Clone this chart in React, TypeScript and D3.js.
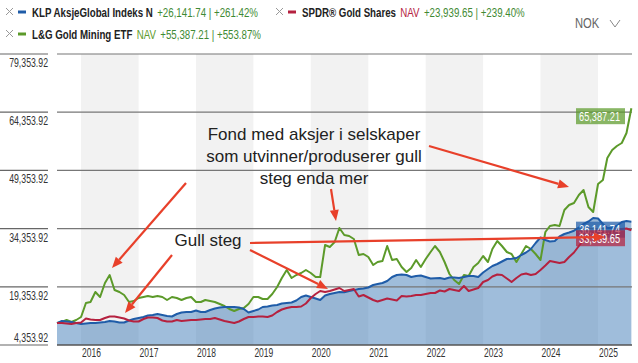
import React, { useEffect } from "react";
import * as d3 from "d3";

const W = 638;
const H = 363;

// monthly values from Aug 2015 to Aug 2025 (start = 10 000 NOK)
const klpValues = [
  10000, 10540, 10411, 10282, 10024, 9766, 9895, 10024, 10024, 10153, 10282, 10540,
  10411, 10153, 10153, 10668, 11055, 11313, 11570, 11957, 12086, 12344, 12086, 11828,
  11699, 12344, 12730, 12859, 12859, 13246, 12859, 12859, 13375, 13761, 14019, 14148,
  14148, 14148, 14019, 13632, 12730, 13117, 13503, 14148, 14277, 14534, 14663, 15050,
  15179, 15308, 15823, 16725, 17112, 16725, 16338, 15952, 17112, 17498, 17756, 18014,
  17936, 18271, 18529, 18787, 18916, 19173, 19818, 20076, 20333, 20849, 21879, 22395,
  22524, 22395, 21879, 22137, 22266, 21879, 21493, 21545, 21622, 21364, 21750, 21750,
  21622, 21879, 22137, 22137, 21879, 23040, 23942, 24715, 25230, 25875, 26519, 26596,
  26777, 27550, 28194, 29096, 30642, 32060, 31416, 31029, 31158, 32318, 32962, 33349,
  33813, 34637, 35539, 36184, 37086, 36957, 35539, 34508, 34508, 35101, 36055, 36312,
  36141.74,
];

const spdrValues = [
  10000, 10024, 9895, 9766, 10024, 10153, 11184, 10926, 10797, 10797, 11313, 11699,
  11699, 11441, 11184, 10668, 10411, 10411, 11055, 11441, 11441, 11313, 10668, 10411,
  10411, 10797, 10540, 10668, 10797, 10797, 10926, 11055, 11055, 11313, 10926, 10540,
  10282, 10024, 10411, 11055, 11570, 11570, 11699, 11699, 11570, 11957, 12859, 13503,
  13890, 14148, 14148, 14277, 15050, 16467, 17498, 18271, 18014, 18271, 18658, 19045,
  18271, 18529, 18787, 16854, 17240, 16596, 15952, 15565, 15952, 16338, 16080, 15823,
  16983, 16854, 16983, 17240, 17240, 17498, 17756, 17756, 18400, 18142, 18787, 18529,
  18271, 19560, 18271, 18658, 19045, 20591, 21106, 22008, 22524, 22395, 21493, 20591,
  21622, 22524, 22782, 22395, 22653, 23684, 24844, 26003, 25746, 25488, 25746, 27034,
  28194, 29869, 31416, 32318, 33220, 34122, 33349, 32962, 33478, 34251, 34251, 34380,
  33939.65,
];

const lgValues = [
  10000, 10282, 10797, 10282, 10797, 11570, 15179, 15436, 18014, 16725, 20333, 22395,
  18529, 18014, 17240, 15436, 15694, 16467, 16725, 16983, 16725, 16983, 16725, 15952,
  16725, 16467, 15952, 16467, 16725, 15436, 15436, 15952, 15694, 15436, 14921, 14405,
  13632, 13117, 13632, 13890, 14921, 16725, 16725, 16210, 16210, 17498, 19302, 21622,
  23684, 21622, 22395, 22911, 23684, 22911, 21879, 21879, 30127, 29611, 30900, 34508,
  32704, 32447, 31673, 27550, 27807, 27034, 24972, 25746, 26003, 29869, 26261, 26519,
  24457, 23168, 24199, 26261, 24457, 26519, 28323, 29869, 28323, 25746, 22653, 21106,
  20076, 22395, 22137, 24457, 25488, 27292, 25746, 29096, 31158, 29869, 28323, 27807,
  25746, 27807, 29869, 29096, 27807, 26261, 33478, 35024, 35281, 35024, 39147, 40436,
  40952, 43015, 44302, 39920, 38632, 45849, 46879, 52549, 54612, 55643, 56416, 58993,
  65387.21,
];

const years = [2016, 2017, 2018, 2019, 2020, 2021, 2022, 2023, 2024, 2025];
const yTicks = [4353.92, 19353.92, 34353.92, 49353.92, 64353.92, 79353.92];

const seriesNames = ["KLP AksjeGlobal Indeks N", "SPDR® Gold Shares", "L&G Gold Mining ETF"];
const seriesNav = ["", "NAV", "NAV"];
const seriesChange = ["+26,141.74 | +261.42%", "+23,939.65 | +239.40%", "+55,387.21 | +553.87%"];
const seriesColors = ["#1f5ca8", "#b5213f", "#5c9a2a"];

const noteLines = ["Fond med aksjer i selskaper", "som utvinner/produserer gull", "steg enda mer"];
const noteGold = "Gull steg";

const sans = "'Liberation Sans', Arial, sans-serif";

const m = { left: 57, right: 632, top: 54, bottom: 345 };

const fmt = d3.format(",.2f");

function monthDate(i: number) {
  return new Date(2015, 7 + i, 1);
}

const arrows = [
  [186, 183, 112, 268],
  [429, 146, 569, 187],
  [331, 189, 336, 221],
  [172, 255, 125, 313],
  [250, 250, 328, 289],
  [250, 243, 605, 237],
];

// condensed text: Arial metrics squeezed horizontally
function NText(props: {
  x: number;
  y: number;
  size: number;
  sx: number;
  anchor?: string;
  fill?: string;
  weight?: string;
  children: React.ReactNode;
}) {
  const { x, y, size, sx, anchor, fill, weight, children } = props;
  return (
    <text
      transform={`translate(${x},${y}) scale(${sx},1)`}
      textAnchor={anchor || "start"}
      fontFamily={sans}
      fontSize={size}
      fontWeight={weight || "normal"}
      fill={fill || "#333"}
    >
      {children}
    </text>
  );
}

function Arrow({ a }: { a: number[] }) {
  const [x1, y1, x2, y2] = a;
  const ang = Math.atan2(y2 - y1, x2 - x1);
  const len = 11;
  const wid = 4.5;
  const bx = x2 - len * Math.cos(ang);
  const by = y2 - len * Math.sin(ang);
  const px = -Math.sin(ang) * wid;
  const py = Math.cos(ang) * wid;
  return (
    <g>
      <line x1={x1} y1={y1} x2={bx} y2={by} stroke="#e8402a" strokeWidth={2.2} />
      <path d={`M${x2},${y2}L${bx + px},${by + py}L${bx - px},${by - py}Z`} fill="#e8402a" />
    </g>
  );
}

export default function App() {
  useEffect(() => {
    document.body.style.margin = "0";
  }, []);

  const x = d3
    .scaleTime()
    .domain([new Date(2015, 7, 1), new Date(2025, 7, 5)])
    .range([m.left, m.right]);
  const y = d3.scaleLinear().domain([yTicks[0], yTicks[yTicks.length - 1]]).range([m.bottom, m.top]);

  const all = [klpValues, spdrValues, lgValues];
  const line = d3
    .line<number>()
    .x((_, i) => x(monthDate(i)))
    .y((d) => y(d));
  const area = d3
    .area<number>()
    .x((_, i) => x(monthDate(i)))
    .y0(m.bottom)
    .y1((d) => y(d));

  const legendPos = [
    [32, 17],
    [302, 17],
    [32, 39],
  ];

  return (
    <div style={{ position: "absolute", left: 0, top: 0 }}>
      <svg width={W} height={H} style={{ display: "block", background: "#fff" }}>
        {/* year bands */}
        {years.map((yr) => {
          const x0 = x(new Date(yr, 0, 1));
          const x1 = Math.min(x(new Date(yr + 1, 0, 1)), m.right);
          return yr % 2 === 0 ? (
            <rect key={yr} x={x0} y={m.top} width={x1 - x0} height={m.bottom - m.top} fill="#f2f2f2" />
          ) : null;
        })}

        {/* area for KLP */}
        <path d={area(klpValues) || ""} fill="#2a6db0" fillOpacity={0.45} />

        {/* grid */}
        {yTicks.map((t, i) => (
          <g key={t}>
            {i > 0 && <line x1={m.left} x2={m.right} y1={y(t)} y2={y(t)} stroke="#777" strokeWidth={1.2} />}
            <line x1={0} x2={48} y1={y(t)} y2={y(t)} stroke="#666" strokeWidth={1.2} />
            <NText x={48} y={i === 0 ? y(t) - 3 : y(t) + 13} size={12.5} sx={0.7} anchor="end">
              {fmt(t)}
            </NText>
          </g>
        ))}
        <line x1={m.left} x2={m.right} y1={m.bottom} y2={m.bottom} stroke="#555" strokeWidth={1.5} />
        {years.map((yr) => (
          <NText key={yr} x={x(new Date(yr, 0, 1)) + 1} y={357} size={12.5} sx={0.68}>
            {yr}
          </NText>
        ))}

        {/* lines */}
        {[2, 0, 1].map((k) => (
          <path key={k} d={line(all[k]) || ""} fill="none" stroke={seriesColors[k]} strokeWidth={2} strokeLinejoin="round" />
        ))}

        {/* end labels */}
        {[0, 1, 2].map((k) => {
          const v = all[k][all[k].length - 1];
          const ty = y(v);
          return (
            <g key={k}>
              <rect x={576} y={ty} width={49} height={16} fill={seriesColors[k]} fillOpacity={0.72} />
              <NText x={579} y={ty + 12.5} size={12.5} sx={0.74} fill="#fff">
                {fmt(v)}
              </NText>
            </g>
          );
        })}

        {/* annotations */}
        {noteLines.map((t, i) => (
          <text key={i} x={314} y={140 + i * 22} textAnchor="middle" fontFamily={sans} fontSize={17} fill="#222">
            {t}
          </text>
        ))}
        <text x={208} y={246} textAnchor="middle" fontFamily={sans} fontSize={17} fill="#222">
          {noteGold}
        </text>
        {arrows.map((a, i) => (
          <Arrow key={i} a={a} />
        ))}

        {/* legend */}
        {seriesNames.map((n, k) => {
          const [lx, ly] = legendPos[k];
          return (
            <g key={n}>
              <path
                d={`M${lx - 26},${ly - 9}l7,7M${lx - 26},${ly - 2}l7,-7`}
                stroke="#999"
                strokeWidth={1}
                fill="none"
              />
              <line x1={lx - 14} x2={lx - 6} y1={ly - 5} y2={ly - 5} stroke={seriesColors[k]} strokeWidth={3} />
              <NText x={lx} y={ly} size={13.5} sx={0.72}>
                <tspan fontWeight="bold" fill="#222">
                  {n}
                </tspan>
                {seriesNav[k] && (
                  <tspan dx={6} fill={seriesColors[k]}>
                    {seriesNav[k]}
                  </tspan>
                )}
                <tspan dx={6} fill="#3f8a34">
                  {seriesChange[k]}
                </tspan>
              </NText>
            </g>
          );
        })}
        <NText x={575} y={28} size={14} sx={0.8} fill="#666">
          NOK
        </NText>
        <path d="M610,20L615,27L620,20" fill="none" stroke="#888" strokeWidth={1} />
      </svg>
    </div>
  );
}
